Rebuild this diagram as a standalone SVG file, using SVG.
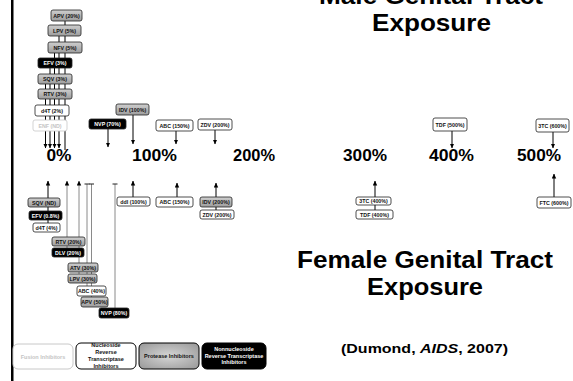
<svg xmlns="http://www.w3.org/2000/svg" width="573" height="381" viewBox="0 0 573 381">
<defs>
<linearGradient id="gg" x1="0" y1="0" x2="0" y2="1"><stop offset="0" stop-color="#cfcfcf"/><stop offset="1" stop-color="#9c9c9c"/></linearGradient>
<radialGradient id="pg" cx="0.5" cy="0.5" r="0.6"><stop offset="0" stop-color="#d6d6d6"/><stop offset="1" stop-color="#a0a0a0"/></radialGradient>
<marker id="ah" markerUnits="userSpaceOnUse" markerWidth="5" markerHeight="5" refX="4.5" refY="2.5" orient="auto"><path d="M0,0.3 L4.8,2.5 L0,4.7 z" fill="#000"/></marker>
<marker id="tee" markerUnits="userSpaceOnUse" markerWidth="6" markerHeight="6" refX="0.5" refY="3" orient="auto"><path d="M0.5,0.5 L0.5,5.5" stroke="#222" stroke-width="1"/></marker>
</defs>
<style>
.n rect{rx:2;ry:2;stroke:#222;stroke-width:0.8}
.g rect{fill:url(#gg)}
.b rect{fill:#000}
.w rect{fill:#fff}
.f rect{fill:#fff;stroke:#c8c8c8}
.n text{font-family:"Liberation Sans",Arial,sans-serif;font-weight:bold;font-size:5.3px;text-anchor:middle}
.g text,.w text{fill:#111}
.b text{fill:#fff}
.f text{fill:#c4c4c4}
.c line{stroke:#000;stroke-width:1}
.c line.gy{stroke:#8a8a8a}
.a{marker-end:url(#ah)}
.t{marker-end:url(#tee)}
.ax{font-family:"Liberation Sans",Arial,sans-serif;font-weight:bold;font-size:16px;text-anchor:middle;fill:#000}
.tt{font-family:"Liberation Sans",Arial,sans-serif;font-weight:bold;font-size:23px;text-anchor:middle;fill:#000}
.lg rect{rx:5;ry:5;stroke-width:1}
.lg text{font-family:"Liberation Sans",Arial,sans-serif;font-weight:bold;font-size:5.5px;text-anchor:middle}
</style>
<rect x="0" y="0" width="573" height="381" fill="#fff"/>
<rect x="11" y="0" width="2.5" height="381" fill="#000"/>

<g id="connectors" class="c">
<line x1="65" y1="21" x2="65" y2="150"/>
<line class="a" x1="59" y1="36" x2="59" y2="148"/>
<line class="a" x1="54.5" y1="53" x2="54.5" y2="148"/>
<line class="a" x1="50" y1="68" x2="50" y2="148"/>
<line class="a" x1="45.5" y1="84" x2="45.5" y2="148"/>
<line class="a" x1="108" y1="129" x2="108" y2="147"/>
<line class="a" x1="133" y1="115" x2="133" y2="144"/>
<line class="a" x1="176" y1="131" x2="176" y2="144"/>
<line class="a" x1="215" y1="130" x2="215" y2="144"/>
<line class="a" x1="452" y1="131" x2="452" y2="148"/>
<line class="a" x1="553" y1="132" x2="553" y2="148"/>
<line class="a" x1="48" y1="223" x2="48" y2="181"/>
<line class="a gy" x1="67" y1="248" x2="67" y2="181"/>
<line class="a gy" x1="79" y1="274" x2="79" y2="181"/>
<line class="t gy" x1="87" y1="286" x2="87" y2="184"/>
<line class="t gy" x1="91.5" y1="297" x2="91.5" y2="184"/>
<line class="t gy" x1="115" y1="308" x2="115" y2="184"/>
<line class="a" x1="133" y1="197" x2="133" y2="181"/>
<line class="a" x1="177" y1="197" x2="177" y2="183"/>
<line class="a" x1="216" y1="210" x2="216" y2="183"/>
<line class="a" x1="375" y1="210" x2="375" y2="181"/>
<line class="a" x1="554" y1="197" x2="554" y2="174"/>
</g>

<g id="m-apv" class="n g"><rect x="51" y="10" width="31" height="11"/><text x="66.5" y="17.5">APV (20%)</text></g>
<g id="m-lpv" class="n g"><rect x="48" y="25" width="33" height="11"/><text x="64.5" y="32.5">LPV (5%)</text></g>
<g id="m-nfv" class="n g"><rect x="48" y="42" width="34" height="11"/><text x="65" y="49.5">NFV (5%)</text></g>
<g id="m-efv" class="n b"><rect x="38" y="58" width="34" height="10"/><text x="55" y="65">EFV (3%)</text></g>
<g id="m-sqv" class="n g"><rect x="38" y="74" width="34" height="10"/><text x="55" y="81">SQV (3%)</text></g>
<g id="m-rtv" class="n g"><rect x="38" y="89" width="34" height="10"/><text x="55" y="96">RTV (3%)</text></g>
<g id="m-d4t" class="n w"><rect x="35" y="105" width="34" height="11"/><text x="52" y="112.5">d4T (2%)</text></g>
<g id="m-enf" class="n f"><rect x="33" y="120" width="34" height="11"/><text x="50" y="127.5">ENF (ND)</text></g>
<g id="m-nvp" class="n b"><rect x="89" y="119" width="37" height="10"/><text x="107.5" y="126">NVP (70%)</text></g>
<g id="m-idv" class="n g"><rect x="116" y="104" width="33" height="11"/><text x="132.5" y="111.5">IDV (100%)</text></g>
<g id="m-abc" class="n w"><rect x="156" y="120" width="37" height="11"/><text x="174.5" y="127.5">ABC (150%)</text></g>
<g id="m-zdv" class="n w"><rect x="198" y="119" width="34" height="11"/><text x="215" y="126.5">ZDV (200%)</text></g>
<g id="m-tdf" class="n w"><rect x="433" y="118" width="34" height="13"/><text x="450" y="126.5">TDF (500%)</text></g>
<g id="m-3tc" class="n w"><rect x="536" y="119" width="33" height="13"/><text x="552.5" y="127.5">3TC (600%)</text></g>

<g id="axis">
<text class="ax" x="59" y="161" textLength="25" lengthAdjust="spacingAndGlyphs">0%</text>
<text class="ax" x="154.5" y="161" textLength="45" lengthAdjust="spacingAndGlyphs">100%</text>
<text class="ax" x="254" y="161" textLength="42" lengthAdjust="spacingAndGlyphs">200%</text>
<text class="ax" x="365" y="161" textLength="44" lengthAdjust="spacingAndGlyphs">300%</text>
<text class="ax" x="451.5" y="161" textLength="45" lengthAdjust="spacingAndGlyphs">400%</text>
<text class="ax" x="539" y="161" textLength="44" lengthAdjust="spacingAndGlyphs">500%</text>
</g>

<g id="f-sqv" class="n g"><rect x="28" y="198" width="32" height="9"/><text x="44" y="204.5">SQV (ND)</text></g>
<g id="f-efv" class="n b"><rect x="29" y="211" width="33" height="9"/><text x="45.5" y="217.5">EFV (0.8%)</text></g>
<g id="f-d4t" class="n w"><rect x="33" y="223" width="27" height="9"/><text x="46.5" y="229.5">d4T (4%)</text></g>
<g id="f-rtv" class="n g"><rect x="52" y="237" width="33" height="9"/><text x="68.5" y="243.5">RTV (20%)</text></g>
<g id="f-dlv" class="n b"><rect x="52" y="248" width="32" height="9"/><text x="68" y="254.5">DLV (20%)</text></g>
<g id="f-atv" class="n g"><rect x="68" y="263" width="30" height="9"/><text x="83" y="269.5">ATV (30%)</text></g>
<g id="f-lpv" class="n g"><rect x="68" y="274" width="29" height="9"/><text x="82.5" y="280.5">LPV (30%)</text></g>
<g id="f-abc" class="n w"><rect x="77" y="286" width="29" height="10"/><text x="91.5" y="293">ABC (40%)</text></g>
<g id="f-apv" class="n g"><rect x="81" y="297" width="27" height="10"/><text x="94.5" y="304">APV (50%)</text></g>
<g id="f-nvp" class="n b"><rect x="99" y="308" width="30" height="10"/><text x="114" y="315">NVP (80%)</text></g>
<g id="f-ddi" class="n w"><rect x="117" y="197" width="33" height="9"/><text x="133.5" y="203.5">ddI (100%)</text></g>
<g id="f-abc2" class="n w"><rect x="156" y="197" width="37" height="10"/><text x="174.5" y="204">ABC (150%)</text></g>
<g id="f-idv" class="n g"><rect x="200" y="197" width="32" height="10"/><text x="216" y="204">IDV (200%)</text></g>
<g id="f-zdv" class="n w"><rect x="200" y="210" width="34" height="9"/><text x="217" y="216.5">ZDV (200%)</text></g>
<g id="f-3tc" class="n w"><rect x="356" y="197" width="35" height="8"/><text x="373.5" y="203">3TC (400%)</text></g>
<g id="f-tdf" class="n w"><rect x="356" y="210" width="37" height="9"/><text x="374.5" y="216.5">TDF (400%)</text></g>
<g id="f-ftc" class="n w"><rect x="537" y="197" width="34" height="11"/><text x="554" y="204.5">FTC (600%)</text></g>

<g id="titles">
<text class="tt" x="431" y="4" textLength="224" lengthAdjust="spacingAndGlyphs">Male Genital Tract</text>
<text class="tt" x="431.5" y="31" textLength="119" lengthAdjust="spacingAndGlyphs">Exposure</text>
<text class="tt" x="425" y="268" textLength="256" lengthAdjust="spacingAndGlyphs">Female Genital Tract</text>
<text class="tt" x="425" y="295" textLength="116" lengthAdjust="spacingAndGlyphs">Exposure</text>
<text x="424.5" y="353" font-family="Liberation Sans, Arial, sans-serif" font-weight="bold" font-size="13.5" text-anchor="middle" textLength="167" lengthAdjust="spacingAndGlyphs">(Dumond, <tspan font-style="italic">AIDS</tspan>, 2007)</text>
</g>

<g id="legend-fusion" class="lg"><rect x="13" y="344" width="60" height="25" fill="#fff" stroke="#c8c8c8"/><text x="43" y="358.5" fill="#c4c4c4">Fusion Inhibitors</text></g>
<g id="legend-nrti" class="lg"><rect x="76" y="343" width="60" height="26" fill="#fff" stroke="#000"/><text x="106" y="347" fill="#111">Nucleoside</text><text x="106" y="354" fill="#111">Reverse</text><text x="106" y="361" fill="#111">Transcriptase</text><text x="106" y="368" fill="#111">Inhibitors</text></g>
<g id="legend-pi" class="lg"><rect x="139" y="343" width="60" height="26" fill="url(#pg)" stroke="#000"/><text x="169" y="358" fill="#111">Protease Inhibitors</text></g>
<g id="legend-nnrti" class="lg"><rect x="202" y="343" width="64" height="26" fill="#000" stroke="#000"/><text x="234" y="351" fill="#fff">Nonnucleoside</text><text x="234" y="357.5" fill="#fff">Reverse Transcriptase</text><text x="234" y="364" fill="#fff">Inhibitors</text></g>
</svg>
